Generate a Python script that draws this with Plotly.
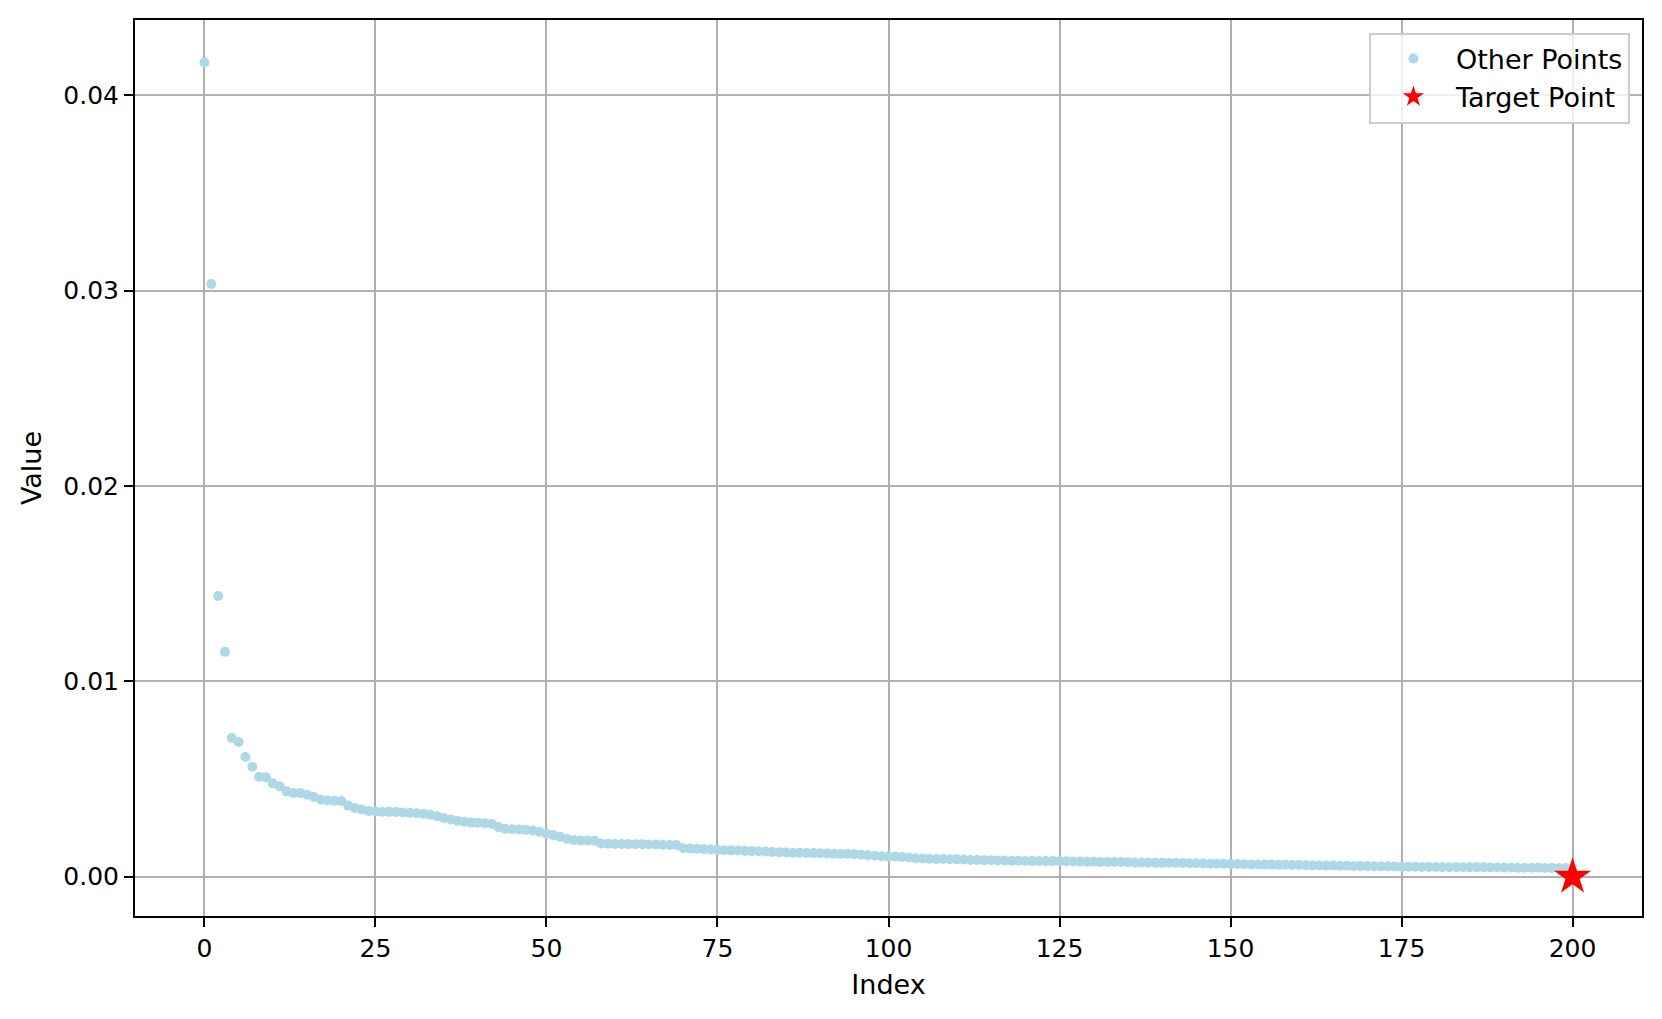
import plotly.graph_objects as go

# Other points: index 0..199
other_index = list(range(200))
other_values = [
    0.04168, 0.03034, 0.01437, 0.01151, 0.00710, 0.00690, 0.00613, 0.00563, 0.00511, 0.00509,
    0.00478, 0.00463, 0.00437, 0.00429, 0.00428, 0.00420, 0.00408, 0.00395, 0.00390, 0.00389,
    0.00388, 0.00364, 0.00352, 0.00344, 0.00336, 0.00334, 0.00333, 0.00332, 0.00331, 0.00329,
    0.00327, 0.00325, 0.00322, 0.00318, 0.00310, 0.00301, 0.00293, 0.00285, 0.00281, 0.00277,
    0.00276, 0.00274, 0.00270, 0.00254, 0.00245, 0.00243, 0.00242, 0.00240, 0.00237, 0.00230,
    0.00220, 0.00213, 0.00204, 0.00193, 0.00188, 0.00186, 0.00185, 0.00184, 0.00170, 0.00169,
    0.00168, 0.00168, 0.00167, 0.00166, 0.00166, 0.00165, 0.00165, 0.00164, 0.00163, 0.00162,
    0.00146, 0.00144, 0.00143, 0.00141, 0.00139, 0.00137, 0.00136, 0.00135, 0.00134, 0.00132,
    0.00131, 0.00130, 0.00129, 0.00127, 0.00125, 0.00124, 0.00123, 0.00123, 0.00122, 0.00121,
    0.00120, 0.00119, 0.00118, 0.00117, 0.00116, 0.00115, 0.00113, 0.00110, 0.00107, 0.00105,
    0.00104, 0.00103, 0.00101, 0.00098, 0.00095, 0.00093, 0.00092, 0.00091, 0.00091, 0.00090,
    0.00089, 0.00088, 0.00086, 0.00085, 0.00084, 0.00084, 0.00083, 0.00083, 0.00082, 0.00082,
    0.00081, 0.00081, 0.00080, 0.00080, 0.00080, 0.00079, 0.00079, 0.00078, 0.00078, 0.00077,
    0.00077, 0.00076, 0.00076, 0.00075, 0.00075, 0.00074, 0.00073, 0.00073, 0.00072, 0.00072,
    0.00071, 0.00071, 0.00070, 0.00070, 0.00069, 0.00069, 0.00068, 0.00067, 0.00067, 0.00066,
    0.00065, 0.00065, 0.00064, 0.00063, 0.00063, 0.00062, 0.00062, 0.00061, 0.00061, 0.00060,
    0.00060, 0.00059, 0.00058, 0.00058, 0.00057, 0.00057, 0.00056, 0.00056, 0.00055, 0.00055,
    0.00054, 0.00054, 0.00053, 0.00053, 0.00052, 0.00051, 0.00051, 0.00051, 0.00050, 0.00050,
    0.00050, 0.00049, 0.00049, 0.00049, 0.00048, 0.00048, 0.00048, 0.00048, 0.00047, 0.00047,
    0.00047, 0.00047, 0.00046, 0.00046, 0.00046, 0.00046, 0.00045, 0.00045, 0.00045, 0.00045,
]

target_index = [200]
target_values = [0.0]

x_ticks = [0, 25, 50, 75, 100, 125, 150, 175, 200]
y_ticks = [0.00, 0.01, 0.02, 0.03, 0.04]
y_tick_labels = ["0.00", "0.01", "0.02", "0.03", "0.04"]

FONT = "DejaVu Sans"
FS = 25
FS_BIG = 27

fig = go.Figure()
fig.add_trace(go.Scatter(
    x=other_index, y=other_values, mode="markers", name="Other Points",
    legendgroup="a",
    marker=dict(color="#add8e6", size=10, line=dict(width=0)),
))
fig.add_trace(go.Scatter(
    x=target_index, y=target_values, mode="markers", name="Target Point",
    legendgroup="b",
    marker=dict(color="red", size=28, symbol="star", line=dict(width=0)),
))

axis_common = dict(
    showgrid=True, gridcolor="#b0b0b0", gridwidth=2,
    showline=True, linecolor="black", linewidth=2, mirror=True,
    ticks="outside", ticklen=9, tickwidth=2, tickcolor="black",
    zeroline=False,
    tickfont=dict(family=FONT, size=FS, color="black"),
)

fig.update_layout(
    width=1654, height=1011,
    paper_bgcolor="white", plot_bgcolor="white",
    margin=dict(l=127, r=20, t=10, b=103),
    font=dict(family=FONT, size=FS, color="black"),
    showlegend=True,
    legend=dict(
        x=0.992, y=0.986, xanchor="right", yanchor="top",
        bgcolor="rgba(255,255,255,0.8)", bordercolor="#cccccc", borderwidth=2,
        font=dict(family=FONT, size=FS_BIG, color="black"),
        itemsizing="trace", itemwidth=75, tracegroupgap=0,
    ),
    xaxis=dict(
        range=[-10.15, 210.15], tickvals=x_ticks,
        title=dict(text="Index", font=dict(family=FONT, size=FS_BIG), standoff=13),
        **axis_common,
    ),
    yaxis=dict(
        range=[-0.00201, 0.04385], tickvals=y_ticks, ticktext=y_tick_labels,
        title=dict(text="Value", font=dict(family=FONT, size=FS_BIG), standoff=14),
        **axis_common,
    ),
    hovermode=False,
)

fig.write_html("out.html", config={"displayModeBar": False})
